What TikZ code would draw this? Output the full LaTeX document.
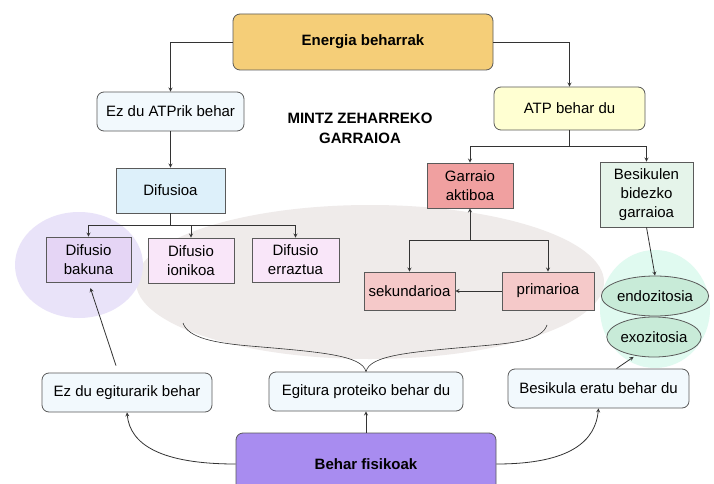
\documentclass[tikz,border=0pt]{standalone}
\usepackage{fontspec}
\setmainfont{Liberation Sans}
\usetikzlibrary{arrows,shapes,backgrounds,calc}

\definecolor{energiacol}{HTML}{F5CE78}
\definecolor{fisikocol}{HTML}{A88CF0}
\definecolor{argicol}{HTML}{F2F9FD}
\definecolor{atpcol}{HTML}{FFFFD2}
\definecolor{difcol}{HTML}{DDF0FA}
\definecolor{bakcol}{HTML}{E5D5F5}
\definecolor{ioncol}{HTML}{F9E6F9}
\definecolor{garcol}{HTML}{F0A0A0}
\definecolor{primcol}{HTML}{F5C9C9}
\definecolor{besicol}{HTML}{E5F4EA}
\definecolor{zitocol}{HTML}{C8EBD8}
\definecolor{grisblob}{HTML}{EFEBEA}
\definecolor{morablob}{HTML}{E9E3F9}
\definecolor{berdeblob}{HTML}{E0FAF0}
\definecolor{ertza}{HTML}{5A5A5A}

\begin{document}
\begin{tikzpicture}[x=1pt,y=-1pt,
  every node/.style={font=\fontsize{15}{19}\selectfont,align=center,text=black,inner sep=0pt},
  rbox/.style={draw=ertza,line width=0.8pt,rounded corners=7pt},
  sbox/.style={draw=ertza,line width=0.8pt},
  zito/.style={ellipse,draw=ertza,line width=0.8pt,fill=zitocol,minimum width=90,minimum height=40},
  lotura/.style={draw=black!80,line width=0.8pt},
  >=stealth]
  \useasboundingbox (0,0) rectangle (714,484);
  \fill[white] (0,0) rectangle (714,484);

  % atzeko orbanak
  \fill[grisblob] (370,282) ellipse [x radius=234,y radius=77];
  \fill[morablob] (79,265) ellipse [x radius=64,y radius=53];
  \fill[berdeblob] (655,309) ellipse [x radius=55,y radius=59];

  \node[rbox,fill=energiacol,minimum width=260,minimum height=56,font=\fontsize{15}{19}\selectfont\bfseries] (energia) at (363,42) {Energia beharrak};
  \node[rbox,fill=argicol,minimum width=147,minimum height=39] (ezatp) at (170.5,111.5) {Ez du ATPrik behar};
  \node[rbox,fill=atpcol,minimum width=151,minimum height=43] (atp) at (569.5,108.5) {ATP behar du};
  \node[font=\fontsize{15}{20}\selectfont\bfseries] (mintz) at (360,128) {MINTZ ZEHARREKO\\GARRAIOA};

  \node[sbox,fill=difcol,minimum width=109,minimum height=45] (difusioa) at (170.5,190.5) {Difusioa};
  \node[sbox,fill=bakcol,minimum width=85,minimum height=45] (bakuna) at (88.5,259.5) {Difusio\\bakuna};
  \node[sbox,fill=ioncol,minimum width=86,minimum height=45] (ionikoa) at (191,260.5) {Difusio\\ionikoa};
  \node[sbox,fill=ioncol,minimum width=87,minimum height=44] (erraztua) at (295.5,260) {Difusio\\erraztua};

  \node[sbox,fill=garcol,minimum width=86,minimum height=45] (garraio) at (470,185.5) {Garraio\\aktiboa};
  \node[sbox,fill=besicol,minimum width=93,minimum height=65] (besikulen) at (646.5,194.5) {Besikulen\\bidezko\\garraioa};
  \node[sbox,fill=primcol,minimum width=91,minimum height=38] (sekund) at (409.5,291) {sekundarioa};
  \node[sbox,fill=primcol,minimum width=92,minimum height=38] (primario) at (548,291) {primarioa};
  \node[zito] (endo) at (655,296) {endozitosia};
  \node[zito] (exo) at (654,337) {exozitosia};

  \node[rbox,fill=argicol,minimum width=170,minimum height=39] (ezegit) at (127,392.5) {Ez du egiturarik behar};
  \node[rbox,fill=argicol,minimum width=194,minimum height=39] (egitura) at (366,391.5) {Egitura proteiko behar du};
  \node[rbox,fill=argicol,minimum width=181,minimum height=39] (besikula) at (598.5,388.5) {Besikula eratu behar du};
  \node[rbox,fill=fisikocol,minimum width=260,minimum height=62,font=\fontsize{15}{19}\selectfont\bfseries] (fisiko) at (366,464) {Behar fisikoak};

  % goiko adarrak
  \draw[lotura,->] (energia.west) -| (ezatp.north);
  \draw[lotura,->] (energia.east) -| (atp.north);
  \draw[lotura,->] (ezatp.south) -- (difusioa.north);
  \draw[lotura] (difusioa.south) -- ++(0,12) coordinate (difj);
  \draw[lotura,->] (difj) -| (bakuna.north);
  \draw[lotura,->] (difj) -| (ionikoa.north);
  \draw[lotura,->] (difj) -| (erraztua.north);
  \draw[lotura] (atp.south) -- ++(0,16) coordinate (atpj);
  \draw[lotura,->] (atpj) -| (garraio.north);
  \draw[lotura,->] (atpj) -| (besikulen.north);
  \coordinate (garj) at (470,240);
  \draw[lotura,->] (garj) -- (garraio.south);
  \draw[lotura,->] (garj) -| (sekund.north);
  \draw[lotura,->] (garj) -| (primario.north);

  \draw[lotura,->] (primario.west) -- (sekund.east);
  \draw[lotura,->] (besikulen.south) -- (endo.north);
  \draw[lotura,->] (fisiko.north) -- (egitura.south);
  \draw[lotura,->,shorten >=2pt] ($(besikula.north)+(18,0)$) -- (exo.225);
  \draw[lotura,->,shorten >=6pt] ($(ezegit.north)+(-11,-7)$) -- (bakuna.south);
  % behetik gorako kurbak
  \draw[lotura,->] (fisiko.west) .. controls +(-75,0) and +(3,32) .. (ezegit.south);
  \draw[lotura,->] (fisiko.east) .. controls +(75,0) and +(-3,32) .. (besikula.south);

  % giltza
  \coordinate (gilez) at (183,323);
  \coordinate (gilesk) at (547,325);
  \draw[lotura,line width=0.6pt] (gilez) .. controls (188,338) and (215,343) .. (250,346)
    .. controls (320,352) and (362,355) .. (egitura.north);
  \draw[lotura,line width=0.6pt] (gilesk) .. controls (542,340) and (515,343) .. (480,346)
    .. controls (410,352) and (370,355) .. (egitura.north);
\end{tikzpicture}
\end{document}
